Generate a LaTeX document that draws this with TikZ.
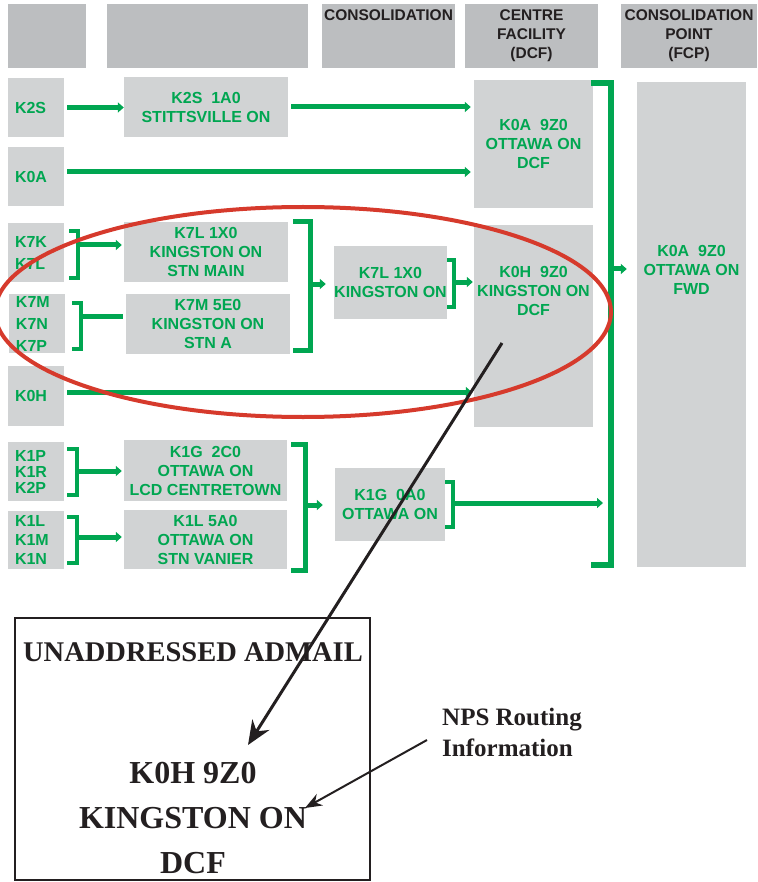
\documentclass[tikz,border=0pt]{standalone}
\usepackage{fontspec}
\setmainfont{Liberation Serif}
\setsansfont{Liberation Sans}
\usepackage{tikz}
\usetikzlibrary{arrows.meta}

\definecolor{postgreen}{HTML}{00A651}
\definecolor{boxgray}{HTML}{D1D3D4}
\definecolor{hdrgray}{HTML}{BCBEC0}
\definecolor{ringred}{HTML}{D63A2C}
\definecolor{inkblack}{HTML}{231F20}

\newcommand\binfont{\sffamily\bfseries\fontsize{16}{19}\selectfont}
\newcommand\hdrfont{\sffamily\bfseries\fontsize{15.5}{19}\selectfont}
\newcommand\tagfont{\bfseries\fontsize{32}{45}\selectfont}

\tikzset{
  hdr/.style={fill=hdrgray, inner sep=0pt, minimum height=64pt},
  hdrtext/.style={text=inkblack, align=center, inner sep=0pt, font=\hdrfont},
  bin/.style={fill=boxgray, inner sep=0pt, text=postgreen, align=center, font=\binfont},
  bintext/.style={text=postgreen, align=center, inner sep=0pt, font=\binfont},
  code/.style={bin, align=left, text width=42pt, minimum width=56pt, minimum height=59pt},
  flow/.style={draw=postgreen, line width=5pt, -{Triangle[length=6pt,width=10pt]}},
  link/.style={draw=postgreen, line width=5pt},
  brk/.style={draw=postgreen, line width=4.5pt, line cap=butt, line join=miter},
  tagtext/.style={text=inkblack, align=center, inner sep=0pt, font=\tagfont},
}

\begin{document}
\begin{tikzpicture}[x=1pt,y=-1pt]
  \useasboundingbox (0,0) rectangle (757,882);
  % Header row
  \node[hdr, minimum width=78pt] (h1) at (47,36) {};
  \node[hdr, minimum width=201pt] (h2) at (207.5,36) {};
  \node[hdr, minimum width=133pt] (h3) at (388.5,36) {};
  \node[hdr, minimum width=133pt] (h4) at (531.5,36) {};
  \node[hdr, minimum width=136pt] (h5) at (689,36) {};
  \node[hdrtext, anchor=north] (h3t) at ([yshift=-6pt]h3.north) {CONSOLIDATION};
  \node[hdrtext] (h4t) at (h4.center) {CENTRE\\FACILITY\\(DCF)};
  \node[hdrtext] (h5t) at (h5.center) {CONSOLIDATION\\POINT\\(FCP)};
  % First column: postal prefixes
  \node[code] (s2) at (36,107.5) {K2S};
  \node[code] (s0a) at (36,176.5) {K0A};
  \node[code] (s7kl) at (36,252.5) {K7K\\[3pt]K7L};
  \node[code] (s7mnp) at (37,323.5) {K7M\\[3pt]K7N\\[3pt]K7P};
  \node[code, minimum height=60pt] (s0h) at (36,396) {K0H};
  \node[code] (s1prp) at (36,471.5) {K1P\\[-3pt]K1R\\[-3pt]K2P};
  \node[code, minimum height=58pt] (s1lmn) at (36,540) {K1L\\K1M\\K1N};
  % Second column: local offices
  \node[bin, minimum width=164pt, minimum height=60pt] (t2s) at (206,107) {K2S~~1A0\\STITTSVILLE ON};
  \node[bin, minimum width=164pt, minimum height=60pt] (t7l) at (206,252) {K7L 1X0\\KINGSTON ON\\STN MAIN};
  \node[bin, minimum width=164pt, minimum height=60pt] (t7m) at (208,324) {K7M 5E0\\KINGSTON ON\\STN A};
  \node[bin, minimum width=163pt, minimum height=61pt] (t1g) at (205.5,470.5) {K1G~~2C0\\OTTAWA ON\\LCD CENTRETOWN};
  \node[bin, minimum width=163pt, minimum height=59pt] (t1l) at (205.5,539.5) {K1L 5A0\\OTTAWA ON\\STN VANIER};
  % Third column: consolidation
  \node[bin, minimum width=113pt, minimum height=73pt] (c7l) at (390.5,282.5) {K7L 1X0\\KINGSTON ON};
  \node[bin, minimum width=110pt, minimum height=73pt] (c1g) at (390,504.5) {K1G~~0A0\\OTTAWA ON};
  % Fourth column: DCF
  \node[bin, minimum width=119pt, minimum height=128pt] (d0a) at (533.5,144) {K0A~~9Z0\\OTTAWA ON\\DCF};
  \node[bin, minimum width=119pt, minimum height=202pt] (d0h) at (533.5,326) {};
  \node[bintext] (d0ht) at (533.5,291) {K0H~~9Z0\\KINGSTON ON\\DCF};
  % Fifth column: FCP
  \node[bin, minimum width=109pt, minimum height=485pt] (fwd) at (691.5,324.5) {};
  \node[bintext] (fwdt) at (691.5,269.5) {K0A~~9Z0\\OTTAWA ON\\FWD};
  % Straight runs
  \draw[flow] ([xshift=3pt]s2.east) -- (s2.east -| t2s.west);
  \draw[flow] ([xshift=3pt]t2s.east) -- ([xshift=-3pt]t2s.east -| d0a.west);
  \coordinate (s0aout) at ([shift={(3,-4.5)}]s0a.east);
  \draw[flow] (s0aout) -- ([xshift=-3pt]d0a.west |- s0aout);
  \coordinate (s0hout) at ([shift={(3,-4)}]s0h.east);
  \draw[flow] (s0hout) -- ([xshift=-2pt]d0h.west |- s0hout);
  % Kingston brackets
  \draw[brk] (69,231) -| (78,278) -- (69,278);
  \coordinate (bA) at (78,245);
  \draw[flow] (bA) -- ([xshift=-2pt]bA -| t7l.west);
  \draw[brk] (72,303) -| (81,349) -- (72,349);
  \coordinate (bB) at (81,316);
  \draw[link] (bB) -- ([xshift=-3pt]bB -| t7m.west);
  \draw[brk, line width=5pt] (293,222) -| (310,350) -- (293,350);
  \coordinate (bC) at (310,284);
  \draw[flow] (bC) -- ([xshift=-8pt]bC -| c7l.west);
  \draw[brk] (447,260) -| (454,307) -- (447,307);
  \coordinate (bD) at (454,282);
  \draw[flow] (bD) -- ([xshift=-1pt]bD -| d0h.west);
  % Ottawa brackets
  \draw[brk] (67,449) -| (77,495) -- (67,495);
  \coordinate (bE) at (77,471);
  \draw[flow] (bE) -- ([xshift=-2pt]bE -| t1g.west);
  \draw[brk] (67,517) -| (77,563) -- (67,563);
  \coordinate (bF) at (77,537);
  \draw[flow] (bF) -- ([xshift=-2pt]bF -| t1l.west);
  \draw[brk, line width=5pt] (291,444) -| (305,570) -- (291,570);
  \coordinate (bG) at (305,505);
  \draw[flow] (bG) -- ([xshift=-12pt]bG -| c1g.west);
  \draw[brk] (445,482) -| (453,527) -- (445,527);
  \coordinate (bH) at (453,503);
  % Big bracket into the FCP
  \draw[brk, line width=5.5pt] (591,83) -| (611,565) -- (591,565);
  \coordinate (bI) at (611,269);
  \draw[flow] (bH) -- ([xshift=-8pt]bH -| bI);
  \draw[flow] (bI) -- ([xshift=-10pt]bI -| fwd.west);
  % Red ring round the Kingston flow
  \draw[ringred, line width=4pt] (303,312) ellipse [x radius=308, y radius=105];
  % Sample tag
  \node[draw=inkblack, line width=2pt, minimum width=355pt, minimum height=262pt, inner sep=0pt] (tag) at (192.5,749) {};
  \node[tagtext, font=\bfseries\fontsize{28.5}{34}\selectfont] (adm) at (193,652) {UNADDRESSED ADMAIL};
  \node[tagtext] (addr) at (193,818) {K0H 9Z0\\KINGSTON ON\\DCF};
  \node[tagtext, align=left, anchor=west, font=\bfseries\fontsize{25}{31}\selectfont] (nps) at (442,732) {NPS Routing\\Information};
  % Pointers
  \coordinate (pin) at (502,343);
  \coordinate (hit) at (248,745);
  \draw[inkblack, line width=3pt, -{Stealth[length=24pt,width=20pt]}] (pin) -- (hit);
  \coordinate (aim) at (305,808);
  \draw[inkblack, line width=2pt, -{Stealth[length=17pt,width=13pt]}] ([shift={(-15,8)}]nps.west) -- (aim);
\end{tikzpicture}
\end{document}
